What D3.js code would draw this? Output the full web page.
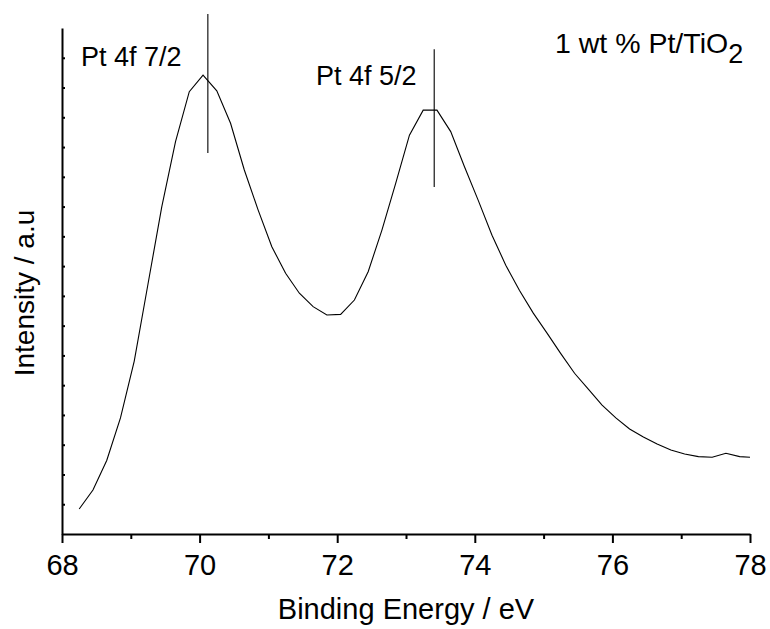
<!DOCTYPE html>
<html>
<head>
<meta charset="utf-8">
<script src="https://cdn.jsdelivr.net/npm/d3@7"></script>
<style>
  html, body { margin: 0; padding: 0; background: #fff; }
  #chart { width: 770px; height: 629px; }
  text { font-family: "Liberation Sans", Arial, sans-serif; fill: #000; }
</style>
</head>
<body>
<div id="chart"></div>
<script>
// XPS Pt 4f spectrum of 1 wt % Pt/TiO2
(function () {
  ///////////////////////////////////////////////////////////// ! Data
  // Binding energy (eV), one point every 0.2 eV
  const bindingEnergy = [
    68.25, 68.45, 68.65, 68.85, 69.05, 69.25, 69.45, 69.65, 69.85, 70.05,
    70.25, 70.45, 70.65, 70.85, 71.05, 71.25, 71.45, 71.65, 71.85, 72.05,
    72.25, 72.45, 72.65, 72.85, 73.05, 73.25, 73.45, 73.65, 73.85, 74.05,
    74.25, 74.45, 74.65, 74.85, 75.05, 75.25, 75.45, 75.65, 75.85, 76.05,
    76.25, 76.45, 76.65, 76.85, 77.05, 77.25, 77.45, 77.65, 77.85, 78.0,
  ];

  // Intensity (a.u.), read in units of the left axis minor ticks
  const intensity = [
    0.84, 1.48, 2.47, 3.9, 5.81, 8.4, 10.99, 13.18, 14.86, 15.42,
    14.89, 13.8, 12.23, 10.89, 9.65, 8.76, 8.09, 7.64, 7.36, 7.38,
    7.86, 8.81, 10.21, 11.78, 13.4, 14.24, 14.24, 13.52, 12.34, 11.21,
    10.04, 9.03, 8.18, 7.42, 6.75, 6.06, 5.4, 4.87, 4.33, 3.9,
    3.53, 3.26, 3.02, 2.82, 2.69, 2.6, 2.58, 2.71, 2.6, 2.58,
  ];

  // Peak markers
  const peakNames = ["Pt 4f 7/2", "Pt 4f 5/2"];
  const peakEnergy = [70.12, 73.41];
  const peakMarkTop = [17.47, 16.29];
  const peakMarkBottom = [12.8, 11.66];

  // Axis ticks
  const xMajorTicks = [68, 70, 72, 74, 76, 78];
  const xMinorTicks = [69, 71, 73, 75, 77];
  const yTicks = [1, 2, 3, 4, 5, 6, 7, 8, 9, 10, 11, 12, 13, 14, 15, 16];

  const spectrum = bindingEnergy.map((e, i) => ({ e: e, v: intensity[i] }));

  ///////////////////////////////////////////////////////////// ! Setup
  const fullWidth = 770;
  const fullHeight = 629;
  const margin = { top: 28, right: 20, bottom: 95, left: 62 };
  const width = fullWidth - margin.left - margin.right;
  const height = fullHeight - margin.top - margin.bottom;
  const fontSize = 28;

  const svg = d3
    .select("#chart")
    .append("svg")
    .attr("width", fullWidth)
    .attr("height", fullHeight)
    .style("display", "block");

  const g = svg
    .append("g")
    .attr("transform", `translate(${margin.left},${margin.top})`);

  ///////////////////////////////////////////////////////////// ! Scales
  const xScale = d3.scaleLinear().domain([68, 78]).range([0, width]);
  const yScale = d3.scaleLinear().domain([0, 17]).range([height, 0]);

  ///////////////////////////////////////////////////////////// ! Axes
  // minor x ticks
  g.append("g")
    .attr("transform", `translate(0,${height})`)
    .call(
      d3.axisBottom(xScale).tickValues(xMinorTicks).tickSize(5).tickSizeOuter(0).tickFormat("")
    )
    .call((a) => a.select(".domain").remove());

  // major x ticks + labels
  const xAxis = g
    .append("g")
    .attr("transform", `translate(0,${height})`)
    .call(
      d3.axisBottom(xScale).tickValues(xMajorTicks).tickSize(9).tickSizeOuter(0).tickPadding(11).tickFormat(d3.format("d"))
    );
  xAxis.selectAll("text").style("font-size", "29px");

  // y axis: unlabelled, ticks pointing in
  g.append("g")
    .call(d3.axisRight(yScale).tickValues(yTicks).tickSize(3).tickSizeOuter(0).tickFormat(""));

  g.selectAll(".domain").attr("stroke-width", 2);
  g.selectAll(".tick line").attr("stroke-width", 2);

  // axis titles
  svg
    .append("text")
    .attr("x", margin.left + width / 2)
    .attr("y", 619)
    .style("font-size", "29px")
    .style("text-anchor", "middle")
    .text("Binding Energy / eV");

  svg
    .append("text")
    .attr("transform", "rotate(-90)")
    .attr("x", -293)
    .attr("y", 34)
    .style("font-size", fontSize + "px")
    .style("text-anchor", "middle")
    .text("Intensity / a.u");

  ///////////////////////////////////////////////////////////// ! Spectrum line
  const line = d3
    .line()
    .x((d) => xScale(d.e))
    .y((d) => yScale(d.v));

  g.append("path")
    .datum(spectrum)
    .attr("fill", "none")
    .attr("stroke", "#000")
    .attr("stroke-width", 1.1)
    .attr("d", line);

  ///////////////////////////////////////////////////////////// ! Peak markers
  peakEnergy.forEach((e, i) => {
    g.append("line")
      .attr("x1", xScale(e))
      .attr("x2", xScale(e))
      .attr("y1", yScale(peakMarkTop[i]))
      .attr("y2", yScale(peakMarkBottom[i]))
      .attr("stroke", "#000")
      .attr("stroke-width", 1.1);
  });

  // labels sit to the left of each marker
  const labelPos = [
    { x: 81, y: 66 },
    { x: 316, y: 85 },
  ];
  peakNames.forEach((name, i) => {
    svg
      .append("text")
      .attr("x", labelPos[i].x)
      .attr("y", labelPos[i].y)
      .style("font-size", "27px")
      .text(name);
  });

  // sample label with subscript
  const sample = svg
    .append("text")
    .attr("x", 555)
    .attr("y", 53)
    .style("font-size", "28.5px");
  sample.append("tspan").text("1 wt % Pt/TiO");
  sample
    .append("tspan")
    .attr("dy", 10)
    .style("font-size", "27px")
    .text("2");
})();
</script>
</body>
</html>
